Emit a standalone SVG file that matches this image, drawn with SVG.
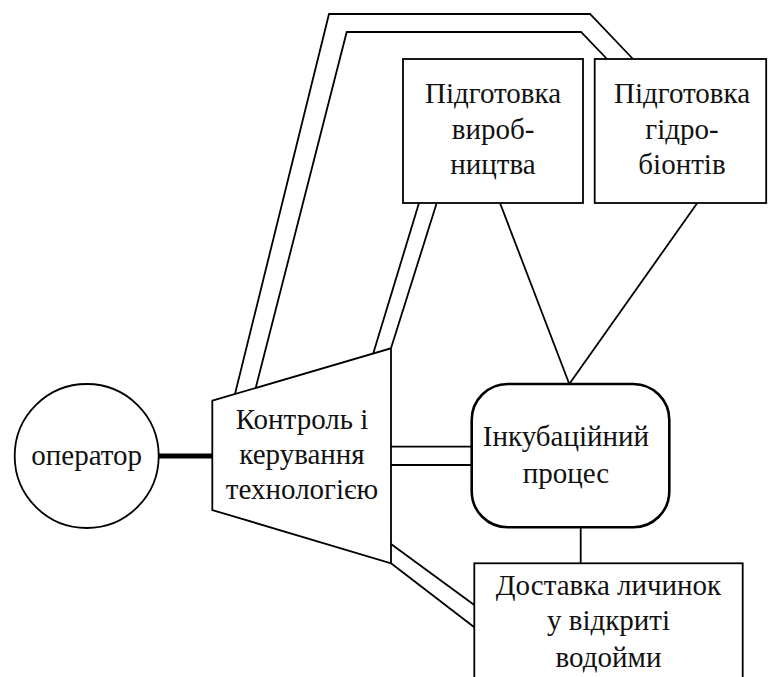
<svg xmlns="http://www.w3.org/2000/svg" width="768" height="677" viewBox="0 0 768 677">
<style>
.s{fill:none;stroke:#000;stroke-width:1.8;stroke-linejoin:miter}
.n{fill:#fff;stroke:#000;stroke-width:1.8}
.t{font-family:'Liberation Serif','Times New Roman',serif;font-size:29px;fill:#111;text-anchor:middle}
</style>
<rect width="768" height="677" fill="#fff"/>
<g id="connectors">
<polyline class="s" points="235,394 329,14 590,14 633,59"/>
<polyline class="s" points="255.7,388 346.7,32 581,32 607,59"/>
<line class="s" x1="419" y1="203" x2="373.3" y2="353.3"/>
<line class="s" x1="436.7" y1="203" x2="391" y2="348.3"/>
<line class="s" x1="500" y1="203" x2="569.3" y2="384"/>
<line class="s" x1="697.3" y1="203" x2="569.3" y2="384"/>
<line class="s" x1="391" y1="446.7" x2="472" y2="446.7"/>
<line class="s" x1="391" y1="465" x2="472" y2="465"/>
<line class="s" x1="391" y1="544" x2="474.3" y2="605"/>
<line class="s" x1="391" y1="563.3" x2="474.3" y2="627.3"/>
<line class="s" x1="580.7" y1="527" x2="580.7" y2="563.3"/>
<line fill="none" stroke="#000" stroke-width="5" x1="158" y1="456" x2="213" y2="456"/>
</g>
<g id="operator">
<circle class="n" cx="86.7" cy="456" r="72"/>
<text class="t" x="86.7" y="465">оператор</text>
</g>
<g id="control">
<polygon class="n" points="212.3,400.7 391,348.3 391,563.3 212.3,510"/>
<text class="t" x="302" y="429.3">Контроль і</text>
<text class="t" x="302" y="464">керування</text>
<text class="t" x="302" y="499.3">технологією</text>
</g>
<g id="prep-production">
<rect class="n" x="403" y="59" width="180" height="144"/>
<text class="t" x="493" y="103.3">Підготовка</text>
<text class="t" x="493" y="138.5">вироб-</text>
<text class="t" x="493" y="174">ництва</text>
</g>
<g id="prep-hydrobionts">
<rect class="n" x="594.7" y="59" width="171.5" height="144"/>
<text class="t" x="682" y="103.3">Підготовка</text>
<text class="t" x="682" y="138.5">гідро-</text>
<text class="t" x="682" y="174">біонтів</text>
</g>
<g id="incubation">
<rect x="471.7" y="384" width="197.6" height="143.3" rx="36" ry="36" fill="#fff" stroke="#000" stroke-width="2.6"/>
<text class="t" x="566" y="446">Інкубаційний</text>
<text class="t" x="566" y="483">процес</text>
</g>
<g id="delivery">
<rect class="n" x="474.3" y="563.3" width="268.4" height="130"/>
<text class="t" x="608.5" y="595">Доставка личинок</text>
<text class="t" x="608.5" y="630">у відкриті</text>
<text class="t" x="608.5" y="666.7">водойми</text>
</g>
</svg>
